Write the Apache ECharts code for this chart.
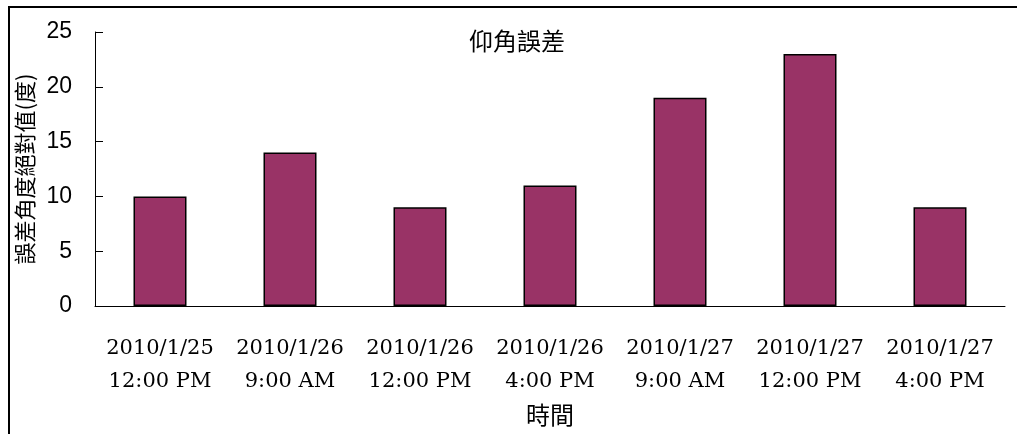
<!DOCTYPE html>
<html>
<head>
<meta charset="utf-8">
<script src="https://cdn.jsdelivr.net/npm/echarts@6/dist/echarts.min.js"></script>
<style>
  html, body { margin: 0; padding: 0; background: #fff; }
  #chart { width: 1017px; height: 434px; }
</style>
</head>
<body>
<div id="chart"></div>
<script>
// Elevation angle error per observation time
const categories = [
  '2010/1/25\n12:00 PM',
  '2010/1/26\n9:00 AM',
  '2010/1/26\n12:00 PM',
  '2010/1/26\n4:00 PM',
  '2010/1/27\n9:00 AM',
  '2010/1/27\n12:00 PM',
  '2010/1/27\n4:00 PM'
];
const errorValues = [10, 14, 9, 11, 19, 23, 9];
const yTicks = [0, 5, 10, 15, 20, 25];

const titleText = '仰角誤差';
const xName = '時間';
const yName = '誤差角度絕對值(度)';

const cjk = '"Noto Sans CJK TC", "Noto Sans CJK SC", sans-serif';

const chart = echarts.init(document.getElementById('chart'), null, { renderer: 'canvas' });
chart.setOption({
  animation: false,
  backgroundColor: '#ffffff',
  title: {
    text: titleText,
    left: 464,
    top: 24,
    textStyle: { fontFamily: cjk, fontSize: 24, fontWeight: 'normal', color: '#000' }
  },
  grid: { left: 95, right: 12, top: 32, bottom: 128, containLabel: false, outerBoundsMode: 'none' },
  xAxis: {
    type: 'category',
    data: categories,
    name: xName,
    nameLocation: 'middle',
    nameGap: 97,
    nameTextStyle: { fontFamily: cjk, fontSize: 24, color: '#000' },
    axisLine: { lineStyle: { color: '#000', width: 1 } },
    axisTick: { inside: true, length: 6, lineStyle: { color: '#000' } },
    axisLabel: {
      interval: 0,
      margin: 26,
      fontFamily: '"DejaVu Serif", serif',
      fontSize: 21,
      lineHeight: 33,
      color: '#000'
    }
  },
  yAxis: {
    type: 'value',
    min: yTicks[0],
    max: yTicks[yTicks.length - 1],
    interval: yTicks[1] - yTicks[0],
    name: yName,
    nameLocation: 'middle',
    nameRotate: 90,
    nameGap: 57,
    nameTextStyle: { fontFamily: cjk, fontSize: 22, color: '#000' },
    axisLine: { show: true, lineStyle: { color: '#000', width: 1 } },
    axisTick: { show: true, inside: true, length: 8, lineStyle: { color: '#000' } },
    splitLine: { show: false },
    axisLabel: {
      margin: 23,
      fontFamily: '"Liberation Sans", sans-serif',
      fontSize: 23,
      color: '#000'
    }
  },
  series: [{
    type: 'bar',
    data: errorValues,
    barWidth: 53,
    itemStyle: { color: '#993366', borderColor: '#000', borderWidth: 1.5 }
  }],
  graphic: [
    { type: 'line', shape: { x1: 8, y1: 7, x2: 1017, y2: 7 }, style: { stroke: '#000', lineWidth: 2 } },
    { type: 'line', shape: { x1: 9, y1: 6, x2: 9, y2: 434 }, style: { stroke: '#000', lineWidth: 2 } }
  ]
});
</script>
</body>
</html>
